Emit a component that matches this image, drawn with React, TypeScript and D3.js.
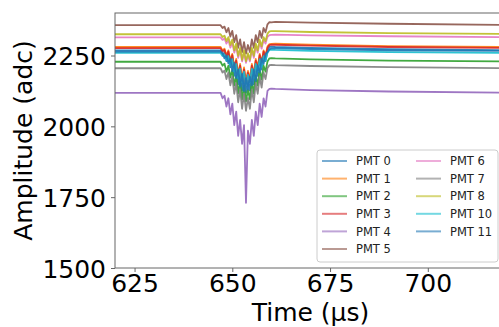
import * as d3 from "d3";
import { useRef, useEffect } from "react";

// sample times (µs) and amplitudes (adc)
const time = [620, 646, 647, 647.5, 648, 648.5, 649, 649.5, 650, 650.5, 651, 651.5, 652, 652.5, 653, 653.5, 654, 654.5, 655, 655.5, 656, 656.5, 657, 657.5, 658, 658.5, 659, 659.5, 660, 661, 670, 690, 720];

const pmt0 = [2268, 2268, 2268, 2253, 2260, 2230, 2253, 2208, 2238, 2178, 2215, 2148, 2193, 2126, 2178, 2118, 2163, 2126, 2193, 2148, 2215, 2178, 2238, 2200, 2253, 2230, 2268, 2280, 2281, 2280, 2277, 2272, 2269];
const pmt1 = [2280, 2280, 2280, 2268, 2274, 2250, 2268, 2232, 2256, 2208, 2238, 2184, 2220, 2166, 2208, 2160, 2196, 2166, 2220, 2184, 2238, 2208, 2256, 2226, 2268, 2250, 2282, 2290, 2291, 2292, 2288, 2283, 2280];
const pmt2 = [2228, 2228, 2228, 2214, 2221, 2193, 2214, 2172, 2200, 2144, 2179, 2116, 2158, 2095, 2144, 2088, 2130, 2095, 2158, 2116, 2179, 2144, 2200, 2165, 2214, 2193, 2229, 2240, 2241, 2240, 2236, 2232, 2229];
const pmt3 = [2276, 2276, 2276, 2264, 2270, 2245, 2264, 2226, 2251, 2201, 2232, 2176, 2214, 2157, 2201, 2151, 2189, 2157, 2214, 2176, 2232, 2201, 2251, 2220, 2264, 2245, 2277, 2287, 2288, 2288, 2285, 2280, 2277];
const pmt4 = [2118, 2118, 2118, 2099, 2108, 2070, 2099, 2042, 2080, 2004, 2052, 1966, 2023, 1938, 2004, 1730, 1985, 1938, 2023, 1966, 2052, 2004, 2080, 2033, 2099, 2070, 2125, 2132, 2133, 2132, 2128, 2123, 2119];
const pmt5 = [2357, 2357, 2357, 2347, 2352, 2332, 2347, 2317, 2337, 2297, 2322, 2277, 2307, 2262, 2297, 2257, 2287, 2262, 2307, 2277, 2322, 2297, 2337, 2312, 2347, 2332, 2360, 2368, 2367, 2369, 2366, 2362, 2358];
const pmt6 = [2314, 2314, 2314, 2305, 2310, 2292, 2305, 2278, 2296, 2260, 2282, 2242, 2269, 2229, 2260, 2224, 2251, 2229, 2269, 2242, 2282, 2260, 2296, 2274, 2305, 2292, 2316, 2322, 2323, 2324, 2321, 2318, 2315];
const pmt7 = [2205, 2205, 2205, 2190, 2197, 2167, 2190, 2145, 2175, 2115, 2152, 2085, 2130, 2062, 2115, 2055, 2100, 2062, 2130, 2085, 2152, 2115, 2175, 2137, 2190, 2167, 2206, 2216, 2217, 2216, 2213, 2209, 2205];
const pmt8 = [2325, 2325, 2325, 2315, 2320, 2301, 2315, 2287, 2306, 2268, 2292, 2249, 2277, 2235, 2268, 2230, 2258, 2235, 2277, 2249, 2292, 2268, 2306, 2282, 2315, 2301, 2327, 2335, 2336, 2336, 2333, 2329, 2326];
const pmt10 = [2259, 2259, 2259, 2248, 2254, 2232, 2248, 2215, 2237, 2193, 2220, 2171, 2204, 2155, 2193, 2149, 2182, 2155, 2204, 2171, 2220, 2193, 2237, 2210, 2248, 2232, 2260, 2270, 2271, 2270, 2266, 2262, 2259];
const pmt11 = [2264, 2264, 2264, 2258, 2240, 2250, 2222, 2240, 2195, 2225, 2170, 2200, 2140, 2185, 2124, 2170, 2130, 2175, 2145, 2200, 2160, 2215, 2190, 2240, 2220, 2255, 2262, 2272, 2275, 2276, 2273, 2268, 2266];

const labels = ["PMT 0", "PMT 1", "PMT 2", "PMT 3", "PMT 4", "PMT 5", "PMT 6", "PMT 7", "PMT 8", "PMT 10", "PMT 11"];
const series = [pmt0, pmt1, pmt2, pmt3, pmt4, pmt5, pmt6, pmt7, pmt8, pmt10, pmt11];
const colors = ["#1f77b4", "#ff7f0e", "#2ca02c", "#d62728", "#9467bd", "#8c564b", "#e377c2", "#7f7f7f", "#bcbd22", "#17becf", "#1f77b4"];

const xTicks = [625, 650, 675, 700];
const yTicks = [1500, 1750, 2000, 2250];

export default function App() {
  const svgRef = useRef<SVGSVGElement>(null);
  const width = 499;
  const height = 327;
  const marginLeft = 115;
  const plotRight = 506;
  const marginTop = 13;
  const plotBottom = 268;
  const font = "DejaVu Sans, sans-serif";

  useEffect(() => {
    const svg = d3.select(svgRef.current);
    svg.selectAll("*").remove();

    const x = d3.scaleLinear().domain([620, 720]).range([marginLeft, plotRight]);
    const y = d3.scaleLinear().domain([1500, 2400]).range([plotBottom, marginTop]);

    svg.append("rect").attr("width", width).attr("height", height).attr("fill", "#fff");

    svg.append("clipPath").attr("id", "plot-clip")
      .append("rect")
      .attr("x", marginLeft).attr("y", marginTop)
      .attr("width", plotRight - marginLeft).attr("height", plotBottom - marginTop);

    const line = d3.line<number>()
      .x((_, i) => x(time[i]))
      .y(d => y(d));

    const traces = svg.append("g").attr("clip-path", "url(#plot-clip)");
    series.forEach((s, i) => {
      traces.append("path")
        .attr("d", line(s))
        .attr("fill", "none")
        .attr("stroke", colors[i])
        .attr("stroke-width", 1.8)
        .attr("stroke-opacity", 0.9)
        .attr("stroke-linejoin", "round");
    });

    // frame
    svg.append("rect")
      .attr("x", marginLeft).attr("y", marginTop)
      .attr("width", plotRight - marginLeft).attr("height", plotBottom - marginTop)
      .attr("fill", "none").attr("stroke", "#666").attr("stroke-width", 1);

    const xAxis = svg.append("g")
      .attr("transform", `translate(0,${plotBottom})`)
      .call(d3.axisBottom(x).tickValues(xTicks).tickSize(4).tickPadding(5).tickFormat(d3.format("d")));
    const yAxis = svg.append("g")
      .attr("transform", `translate(${marginLeft},0)`)
      .call(d3.axisLeft(y).tickValues(yTicks).tickSize(4).tickPadding(5).tickFormat(d3.format("d")));

    [xAxis, yAxis].forEach(a => {
      a.select(".domain").remove();
      a.selectAll("line").attr("stroke", "#666");
      a.selectAll("text")
        .attr("fill", "#000")
        .style("font-family", font)
        .style("font-size", "25px");
    });
    xAxis.selectAll("text").attr("dy", "0.6em");
    yAxis.selectAll("text").attr("dy", "0.36em");

    svg.append("text")
      .attr("x", (marginLeft + plotRight) / 2)
      .attr("y", 321)
      .attr("text-anchor", "middle")
      .style("font-family", font)
      .style("font-size", "25px")
      .text("Time (µs)");

    svg.append("text")
      .attr("transform", `translate(32,${(marginTop + plotBottom) / 2}) rotate(-90)`)
      .attr("text-anchor", "middle")
      .style("font-family", font)
      .style("font-size", "25px")
      .text("Amplitude (adc)");

    // legend
    const legend = svg.append("g");
    legend.append("rect")
      .attr("x", 317).attr("y", 150)
      .attr("width", 181).attr("height", 112)
      .attr("rx", 3)
      .attr("fill", "#fff").attr("fill-opacity", 0.8)
      .attr("stroke", "#ccc").attr("stroke-width", 1);

    labels.forEach((lab, i) => {
      const col = i < 6 ? 0 : 1;
      const row = i < 6 ? i : i - 6;
      const lx = col === 0 ? 322 : 416;
      const ly = 161 + row * 17.6;
      legend.append("line")
        .attr("x1", lx).attr("x2", lx + 25)
        .attr("y1", ly).attr("y2", ly)
        .attr("stroke", colors[i])
        .attr("stroke-width", 2)
        .attr("stroke-opacity", 0.6);
      legend.append("text")
        .attr("x", lx + 34).attr("y", ly)
        .attr("dy", "0.36em")
        .attr("fill", "#222")
        .style("font-family", font)
        .style("font-size", "11.5px")
        .text(lab);
    });
  }, []);

  return (
    <svg ref={svgRef} width={width} height={height}
      style={{ position: "absolute", left: 0, top: 0 }}></svg>
  );
}
